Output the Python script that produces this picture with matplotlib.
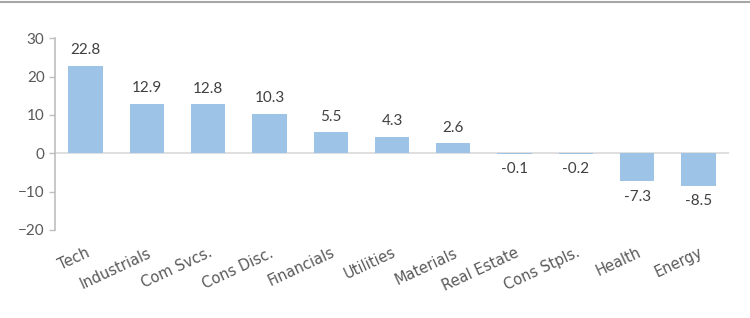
import matplotlib
matplotlib.use('Agg')
import numpy as np
from matplotlib import pyplot as plt
from matplotlib.lines import Line2D

# 数据
sectors = ['Tech', 'Industrials', 'Com Svcs.', 'Cons Disc.', 'Financials', 'Utilities',
           'Materials', 'Real Estate', 'Cons Stpls.', 'Health', 'Energy']
values = [22.8, 12.9, 12.8, 10.3, 5.5, 4.3, 2.6, -0.1, -0.2, -7.3, -8.5]

plt.rcParams['font.family'] = ['Lato', 'DejaVu Sans']

fig = plt.figure(figsize=(7.5, 3.18), dpi=100)
ax = fig.add_axes([0.0733, 0.277, 0.8987, 0.603])

x = np.arange(len(sectors))
ax.bar(x, values, width=0.56, color='#9dc3e6', zorder=2)

# 数据标签
for xi, v in zip(x, values):
    if v >= 0:
        ax.annotate(f'{v:.1f}', (xi, v), xytext=(0, 6), textcoords='offset points',
                    ha='center', va='bottom', fontsize=11, color='#404040')
    else:
        ax.annotate(f'{v:.1f}', (xi, v), xytext=(0, -6), textcoords='offset points',
                    ha='center', va='top', fontsize=11, color='#404040')

ax.set_xlim(-0.5, len(sectors) - 0.5)
ax.set_ylim(-20, 30)
ax.set_yticks([-20, -10, 0, 10, 20, 30])
ax.tick_params(axis='y', colors='#bfbfbf', labelcolor='#595959', labelsize=11,
               length=4, width=1)
ax.set_xticks(x)
ax.set_xticklabels(sectors, rotation=25, ha='right', rotation_mode='anchor',
                   fontsize=10.5, color='#595959', family='DejaVu Sans')
ax.tick_params(axis='x', length=0, pad=11)

for s in ['top', 'right', 'bottom']:
    ax.spines[s].set_visible(False)
ax.spines['left'].set_color('#bfbfbf')
ax.spines['left'].set_linewidth(1.2)
ax.axhline(0, color='#d9d9d9', lw=1.2, zorder=1)

# 顶部分隔线
fig.add_artist(Line2D([0, 1], [0.995, 0.995], transform=fig.transFigure,
                      color='#a6a6a6', lw=1.5))

plt.savefig('out.png', dpi=100)
